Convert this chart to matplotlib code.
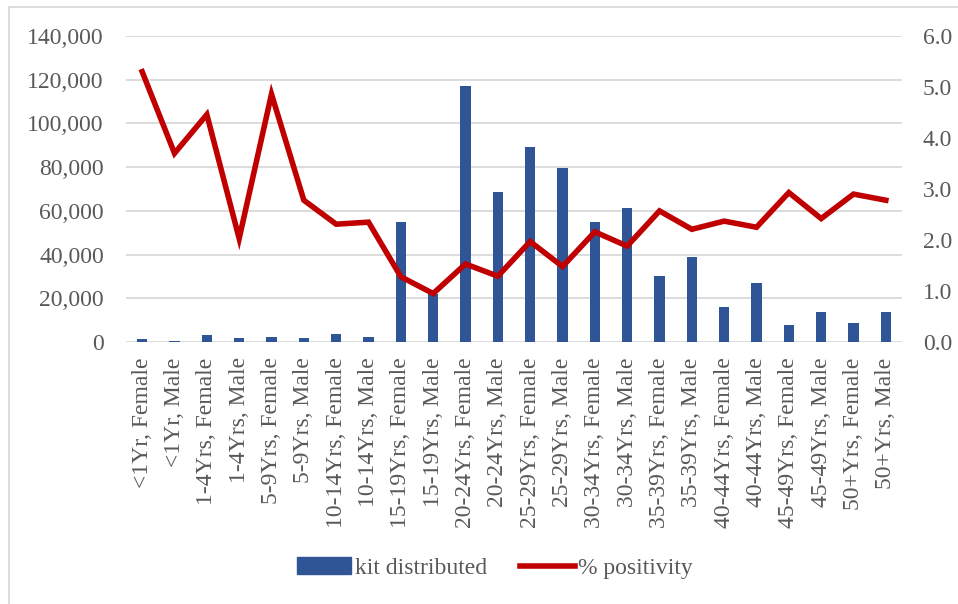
import matplotlib
matplotlib.use("Agg")
import matplotlib.pyplot as plt
from matplotlib.lines import Line2D
from matplotlib.patches import Patch
from matplotlib.ticker import FuncFormatter, MultipleLocator

categories = ["<1Yr, Female", "<1Yr, Male", "1-4Yrs, Female", "1-4Yrs, Male",
              "5-9Yrs, Female", "5-9Yrs, Male", "10-14Yrs, Female", "10-14Yrs, Male",
              "15-19Yrs, Female", "15-19Yrs, Male", "20-24Yrs, Female", "20-24Yrs, Male",
              "25-29Yrs, Female", "25-29Yrs, Male", "30-34Yrs, Female", "30-34Yrs, Male",
              "35-39Yrs, Female", "35-39Yrs, Male", "40-44Yrs, Female", "40-44Yrs, Male",
              "45-49Yrs, Female", "45-49Yrs, Male", "50+Yrs, Female", "50+Yrs, Male"]
kits = [1500, 500, 3400, 1800, 2400, 2000, 3500, 2300,
        54700, 22000, 117200, 68500, 89000, 79800, 55000, 61400,
        30400, 38900, 16000, 27000, 7800, 13600, 8700, 13900]
positivity = [5.30, 3.70, 4.46, 2.03, 4.86, 2.78, 2.31, 2.35,
              1.28, 0.95, 1.53, 1.29, 1.97, 1.48, 2.16, 1.88,
              2.57, 2.21, 2.37, 2.25, 2.93, 2.42, 2.90, 2.78]

bar_color = "#2F5597"
line_color = "#C00000"
text_color = "#595959"
grid_color = "#D9D9D9"

plt.rcParams["font.family"] = ["Liberation Serif", "DejaVu Serif"]

W, H = 958, 604
fig = plt.figure(figsize=(W / 100, H / 100), dpi=100)
ax = fig.add_axes([126 / W, 1 - 342 / H, (902 - 126) / W, (342 - 36) / H])
ax2 = ax.twinx()

x = list(range(len(categories)))
ax.bar(x, kits, width=0.31, color=bar_color, zorder=2)
ax.set_ylim(0, 140000)
ax.yaxis.set_major_locator(MultipleLocator(20000))
ax.yaxis.set_major_formatter(FuncFormatter(lambda v, p: f"{int(v):,}"))
ax.set_xlim(-0.5, len(categories) - 0.5)
ax.set_xticks(x)
ax.set_xticklabels(categories, rotation=90)
ax.grid(axis="y", color=grid_color, linewidth=1.3, zorder=0)
ax.set_axisbelow(True)

ax2.plot(x, positivity, color=line_color, linewidth=4.0, solid_joinstyle="miter", zorder=3)
ax2.set_ylim(0, 6.0)
ax2.yaxis.set_major_locator(MultipleLocator(1.0))
ax2.yaxis.set_major_formatter(FuncFormatter(lambda v, p: f"{v:.1f}"))

for a in (ax, ax2):
    for s in a.spines.values():
        s.set_visible(False)
    a.tick_params(length=0, labelsize=17, colors=text_color)
ax.tick_params(axis="y", pad=16)
ax2.tick_params(axis="y", pad=15)
ax.tick_params(axis="x", pad=11)

handles = [Patch(color=bar_color, label="kit distributed"),
           Line2D([0], [0], color=line_color, linewidth=4.0, label="% positivity")]
fig.legend(handles=handles, loc="center", bbox_to_anchor=(495 / W, 1 - 568 / H),
           ncol=2, frameon=False, fontsize=17, handlelength=2.3, handleheight=0.7,
           handletextpad=0.15, columnspacing=1.4, labelcolor=text_color)

# chart area border
fig.add_artist(Line2D([9 / W, 9 / W], [0, 1 - 7 / H], transform=fig.transFigure,
                      color=grid_color, linewidth=1.3))
fig.add_artist(Line2D([9 / W, 1], [1 - 7 / H, 1 - 7 / H], transform=fig.transFigure,
                      color=grid_color, linewidth=1.3))

fig.savefig("out.png", dpi=100)
